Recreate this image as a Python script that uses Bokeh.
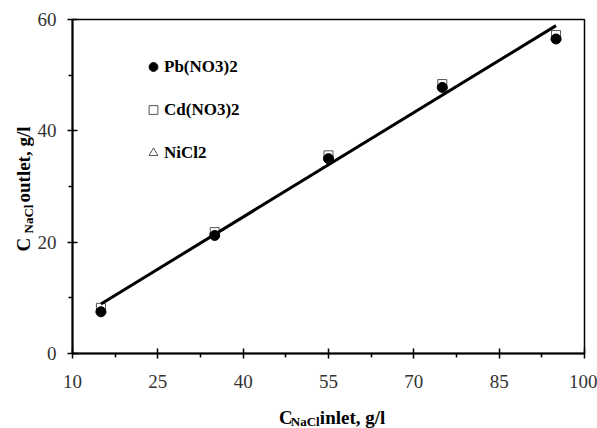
import math
from bokeh.plotting import figure
from bokeh.layouts import row, column
from bokeh.models import FixedTicker, Legend, LegendItem, Label, Range1d
from bokeh.embed import file_html
from bokeh.resources import INLINE

# ---- data ----
inlet = [15, 35, 55, 75, 95]
pb_outlet = [7.5, 21.2, 35.0, 47.8, 56.5]
cd_outlet = [8.2, 21.8, 35.6, 48.4, 57.2]
ni_outlet = [7.9, 21.5, 35.3, 48.1, 56.9]
fit_x = [15, 95]
fit_y = [8.9, 58.9]
x_ticks = [10, 25, 40, 55, 70, 85, 100]
x_minor = [17.5, 32.5, 47.5, 62.5, 77.5, 92.5]
y_ticks = [0, 20, 40, 60]
y_minor = [10, 30, 50]
labels = ["Pb(NO3)2", "Cd(NO3)2", "NiCl2"]
x_title = ["C", "NaCl", "inlet, g/l"]
y_title = ["C", "NaCl", "outlet, g/l"]

SERIF = "Liberation Serif"
LEFT_W = 34
MAIN_H = 400
W, H = 597, 428

p = figure(width=W - LEFT_W, height=MAIN_H, output_backend="svg", toolbar_location=None,
           x_range=Range1d(10, 100), y_range=Range1d(0, 60),
           min_border_left=36, min_border_right=13, min_border_top=19, min_border_bottom=47)
p.background_fill_color = "white"
p.border_fill_color = "white"
p.grid.visible = False
p.outline_line_color = "black"
p.outline_line_width = 1.5

for ax, ticks, minor in ((p.xaxis[0], x_ticks, x_minor), (p.yaxis[0], y_ticks, y_minor)):
    ax.ticker = FixedTicker(ticks=ticks, minor_ticks=minor)
    ax.axis_line_color = "black"
    ax.axis_line_width = 2
    ax.major_tick_line_color = "black"
    ax.major_tick_line_width = 1.5
    ax.minor_tick_line_color = "black"
    ax.minor_tick_line_width = 1.5
    ax.major_tick_in = 5
    ax.major_tick_out = 5
    ax.minor_tick_in = 0
    ax.minor_tick_out = 4
    ax.major_label_text_font = SERIF
    ax.major_label_text_font_size = "19px"
    ax.major_label_text_color = "#333333"
    ax.axis_label = None
p.xaxis[0].major_label_standoff = 16
p.yaxis[0].major_label_standoff = 11

tri = p.scatter(inlet, ni_outlet, marker="triangle", size=10, fill_color="white",
                line_color="#555555", line_width=1)
sq = p.scatter(inlet, cd_outlet, marker="square", size=9, fill_color="white",
               line_color="#555555", line_width=1)
cir = p.scatter(inlet, pb_outlet, marker="circle", size=10, fill_color="black",
                line_color="black")
p.line(fit_x, fit_y, line_color="black", line_width=3)

legend = Legend(items=[LegendItem(label=labels[0], renderers=[cir]),
                       LegendItem(label=labels[1], renderers=[sq]),
                       LegendItem(label=labels[2], renderers=[tri])],
                location=(70, 188), padding=0, margin=0, spacing=18,
                glyph_width=22, glyph_height=25, label_height=25, label_standoff=0,
                label_text_font=SERIF, label_text_font_size="17px",
                label_text_font_style="bold", label_text_color="black",
                border_line_color=None, background_fill_alpha=0)
p.add_layout(legend, "center")


def helper(w, h):
    f = figure(width=w, height=h, output_backend="svg", toolbar_location=None,
               x_range=Range1d(0, w), y_range=Range1d(0, h),
               x_axis_location=None, y_axis_location=None,
               min_border=0, min_border_left=0, min_border_right=0,
               min_border_top=0, min_border_bottom=0)
    f.grid.visible = False
    f.outline_line_color = None
    f.background_fill_color = "white"
    f.border_fill_color = "white"
    return f


def lab(fig, text, x, y, size, angle=0.0):
    fig.add_layout(Label(text=text, x=x, y=y, angle=angle, text_font=SERIF,
                         text_font_size=size, text_font_style="bold",
                         text_color="black", text_align="left",
                         text_baseline="alphabetic"))


# y axis title (rotated), left strip
left = helper(LEFT_W, H)
lab(left, y_title[0], 22.5, 177, "19px", angle=math.pi / 2)
lab(left, y_title[1], 27.5, 195, "13px", angle=math.pi / 2)
lab(left, y_title[2], 22.5, 226, "19px", angle=math.pi / 2)

# x axis title, bottom strip
bottom = helper(W - LEFT_W, H - MAIN_H)
lab(bottom, x_title[0], 227, 11, "19px")
lab(bottom, x_title[1], 240, 7, "13px")
lab(bottom, x_title[2], 272, 11, "19px")

layout = row(left, column(p, bottom, spacing=0), spacing=0)

open("out.html", "w").write(file_html(layout, INLINE))
